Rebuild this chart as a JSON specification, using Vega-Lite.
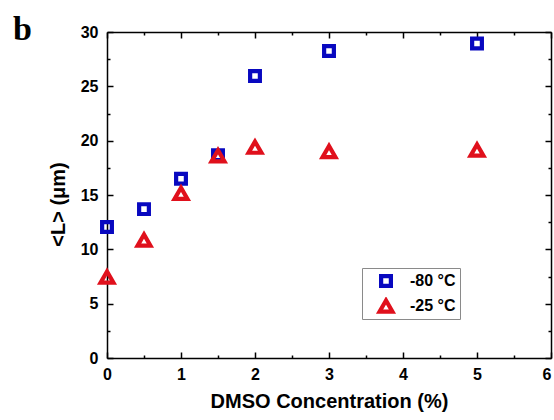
{
  "$schema": "https://vega.github.io/schema/vega-lite/v6.json",
  "width": 444,
  "height": 326,
  "autosize": {"type": "none"},
  "padding": {"left": 107, "top": 32, "right": 3, "bottom": 62},
  "background": "white",
  "title": {
    "text": "b",
    "font": "Liberation Serif",
    "fontSize": 34,
    "fontWeight": "bold",
    "color": "black",
    "anchor": "start",
    "frame": "group",
    "dx": -94,
    "dy": 54,
    "baseline": "alphabetic"
  },
  "config": {
    "view": {"stroke": null},
    "font": "Liberation Sans",
    "axis": {"grid": false, "domainColor": "black", "tickColor": "black", "domainWidth": 1.5, "tickWidth": 1.5, "labelColor": "black", "titleColor": "black"}
  },
  "data": {
    "values": [
      {"conc": 0, "L": 12.05, "series": "-80 °C"},
      {"conc": 0.5, "L": 13.7, "series": "-80 °C"},
      {"conc": 1, "L": 16.5, "series": "-80 °C"},
      {"conc": 1.5, "L": 18.65, "series": "-80 °C"},
      {"conc": 2, "L": 25.95, "series": "-80 °C"},
      {"conc": 3, "L": 28.25, "series": "-80 °C"},
      {"conc": 5, "L": 28.95, "series": "-80 °C"},
      {"conc": 0, "L": 7.45, "series": "-25 °C"},
      {"conc": 0.5, "L": 10.85, "series": "-25 °C"},
      {"conc": 1, "L": 15.15, "series": "-25 °C"},
      {"conc": 1.5, "L": 18.6, "series": "-25 °C"},
      {"conc": 2, "L": 19.4, "series": "-25 °C"},
      {"conc": 3, "L": 19.0, "series": "-25 °C"},
      {"conc": 5, "L": 19.13, "series": "-25 °C"}
    ]
  },
  "layer": [
    {
      "mark": {"type": "point", "filled": false, "strokeWidth": 4.2, "opacity": 1, "strokeJoin": "miter"},
      "encoding": {
        "x": {"field": "conc", "type": "quantitative", "scale": {"domain": [0, 6], "nice": false, "zero": false},
          "axis": {"orient": "bottom", "values": [0, 1, 2, 3, 4, 5, 6], "ticks": false, "domain": true, "labelFontSize": 16, "labelFontWeight": "bold", "labelPadding": 8, "labelFlush": false,
            "labelAlign": {"condition": {"test": "datum.value == 6", "value": "right"}, "value": "center"},
            "title": "DMSO Concentration (%)", "titleFontSize": 20, "titleFontWeight": "bold", "titlePadding": 9}},
        "y": {"field": "L", "type": "quantitative", "scale": {"domain": [0, 30], "nice": false},
          "axis": {"orient": "left", "values": [0, 5, 10, 15, 20, 25, 30], "ticks": false, "domain": true, "labelFontSize": 16, "labelFontWeight": "bold", "labelPadding": 9,
            "title": "<L> (μm)", "titleFontSize": 20, "titleFontWeight": "bold", "titleX": -49, "titleY": 172, "titleAngle": -90, "titleAlign": "center", "titleBaseline": "middle"}},
        "shape": {"field": "series", "type": "nominal", "scale": {"domain": ["-80 °C", "-25 °C"], "range": ["square", "triangle-up"]},
          "legend": {"orient": "none", "legendX": 255, "legendY": 236, "title": null, "strokeColor": "#8a8a8a", "padding": 4, "labelFontSize": 16, "labelFontWeight": "bold", "labelColor": "black", "symbolStrokeWidth": 4.2, "symbolFillColor": "transparent", "rowPadding": 7, "clipHeight": 18, "labelOffset": 15, "symbolOffset": 11}},
        "size": {"field": "series", "type": "nominal", "scale": {"domain": ["-80 °C", "-25 °C"], "range": [95, 165]}},
        "color": {"field": "series", "type": "nominal", "scale": {"domain": ["-80 °C", "-25 °C"], "range": ["#0808c0", "#e0101c"]}}
      }
    },
    {
      "mark": {"type": "point", "opacity": 0},
      "encoding": {
        "x": {"field": "conc", "type": "quantitative", "axis": {"orient": "top", "values": [0, 1, 2, 3, 4, 5, 6], "tickSize": -6, "labels": false, "domain": true, "title": null}},
        "y": {"field": "L", "type": "quantitative", "axis": {"orient": "right", "values": [0, 5, 10, 15, 20, 25, 30], "tickSize": -6, "labels": false, "domain": true, "title": null}}
      }
    },
    {
      "mark": {"type": "point", "opacity": 0},
      "encoding": {
        "x": {"field": "conc", "type": "quantitative", "axis": {"orient": "bottom", "values": [0, 1, 2, 3, 4, 5, 6], "tickSize": -6, "labels": false, "domain": false, "title": null}},
        "y": {"field": "L", "type": "quantitative", "axis": {"orient": "left", "values": [0, 5, 10, 15, 20, 25, 30], "tickSize": -6, "labels": false, "domain": false, "title": null}}
      }
    },
    {
      "mark": {"type": "point", "opacity": 0},
      "encoding": {
        "x": {"field": "conc", "type": "quantitative", "axis": {"orient": "bottom", "values": [0.5, 1.5, 2.5, 3.5, 4.5, 5.5], "tickSize": -3, "labels": false, "domain": false, "title": null}},
        "y": {"field": "L", "type": "quantitative", "axis": {"orient": "left", "values": [2.5, 7.5, 12.5, 17.5, 22.5, 27.5], "tickSize": -3, "labels": false, "domain": false, "title": null}}
      }
    },
    {
      "mark": {"type": "point", "opacity": 0},
      "encoding": {
        "x": {"field": "conc", "type": "quantitative", "axis": {"orient": "top", "values": [0.5, 1.5, 2.5, 3.5, 4.5, 5.5], "tickSize": -3, "labels": false, "domain": false, "title": null}},
        "y": {"field": "L", "type": "quantitative", "axis": {"orient": "right", "values": [2.5, 7.5, 12.5, 17.5, 22.5, 27.5], "tickSize": -3, "labels": false, "domain": false, "title": null}}
      }
    }
  ],
  "resolve": {"axis": {"x": "independent", "y": "independent"}}
}
